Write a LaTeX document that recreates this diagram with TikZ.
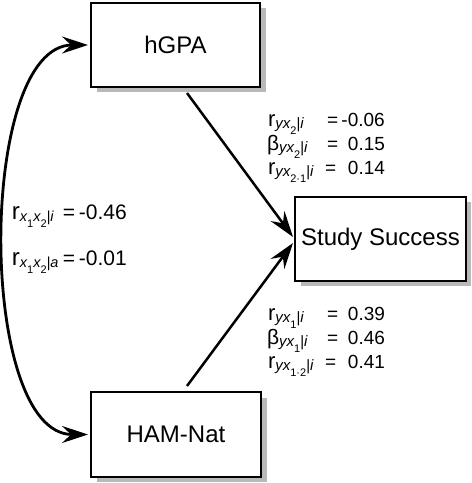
\documentclass[tikz,border=0pt]{standalone}
\usepackage{fontspec}
\setmainfont{Liberation Sans}
\usetikzlibrary{arrows.meta,calc}
\newcommand\rsym[1][22]{{\fontsize{#1}{#1}\selectfont r}}
\newcommand\bsym{{\fontsize{21}{21}\selectfont β}}
\newcommand\sbs[2][15]{\raisebox{-2.5pt}{\fontsize{#1}{#1}\selectfont\itshape #2}}
\newcommand\ssb[2][11]{\raisebox{-5.5pt}{\fontsize{#1}{#1}\selectfont\upshape #2}}
\newcommand\lbl[4]{\rlap{#1}\hspace*{#2}\rlap{=}\hspace*{#3}#4}
\definecolor{shadowgray}{RGB}{185,185,185}
\tikzset{
  box/.style={draw, line width=2.7pt, fill=white, inner sep=0pt, outer sep=0pt,
    font=\fontsize{24}{24}\selectfont},
  shadowfill/.style={fill=shadowgray},
  lab/.style={inner sep=0pt, outer sep=0pt, anchor=base west, font=\fontsize{19}{19}\selectfont},
  labL/.style={inner sep=0pt, outer sep=0pt, anchor=base west, font=\fontsize{21}{21}\selectfont},
  tip/.style={-{Stealth[length=26pt,width=17pt,inset=9pt]}},
  tips/.style={{Stealth[length=26pt,width=17pt,inset=9pt]}-{Stealth[length=26pt,width=17pt,inset=9pt]}}
}
\begin{document}
\begin{tikzpicture}[x=1pt,y=-1pt]
\useasboundingbox (0,0) rectangle (472,483);
% shadows
\fill[shadowfill] (96.5,8) rectangle (266,92);
\fill[shadowfill] (96.5,397.5) rectangle (267,482);
\fill[shadowfill] (300.5,202) rectangle (471,286);
% boxes
\node[box, minimum width=169pt, minimum height=84pt] (hgpa) at (175.5,45) {hGPA};
\node[box, minimum width=170pt, minimum height=85pt] (ham) at (176,434.5) {HAM-Nat};
\node[box, minimum width=171pt, minimum height=84pt] (ss) at (380.5,239) {Study Success};

\draw[tip, line width=2.5pt] ([xshift=11.5pt,yshift=-6pt]hgpa.south) -- ([xshift=-2pt,yshift=2pt]ss.west);
\draw[tip, line width=2.5pt] ([xshift=11pt,yshift=6pt]ham.north) -- ([xshift=-2pt,yshift=-4pt]ss.west);
\draw[tips, line width=2.8pt] ([xshift=-3pt]hgpa.west) .. controls +(-111,0) and +(-111,0) .. ([xshift=-3pt]ham.west);

% left labels
\node[labL] (la) at (12,219) {\lbl{\rsym[24]\sbs[14.5]{x\ssb[11]{1}x\ssb[11]{2}|i}}{51pt}{16pt}{-0.46}};
\node[labL] (lb) at (12,265) {\lbl{\rsym[24]\sbs[14.5]{x\ssb[11]{1}x\ssb[11]{2}|a}}{51pt}{16pt}{-0.01}};

% upper right labels
\node[lab] (u1) at (268,126) {\lbl{\rsym\sbs{yx\ssb{2}|i}}{59pt}{14.5pt}{-0.06}};
\node[lab] (u2) at (267,150) {\lbl{\bsym\sbs{yx\ssb{2}|i}}{60pt}{21pt}{0.15}};
\node[lab] (u3) at (268,174) {\lbl{\rsym\sbs{yx\ssb{2·1}|i}}{57pt}{23pt}{0.14}};

% lower right labels
\node[lab] (d1) at (268,320) {\lbl{\rsym\sbs{yx\ssb{1}|i}}{59pt}{21pt}{0.39}};
\node[lab] (d2) at (267,344) {\lbl{\bsym\sbs{yx\ssb{1}|i}}{60pt}{21pt}{0.46}};
\node[lab] (d3) at (268,368) {\lbl{\rsym\sbs{yx\ssb{1·2}|i}}{57pt}{23pt}{0.41}};
\end{tikzpicture}
\end{document}
